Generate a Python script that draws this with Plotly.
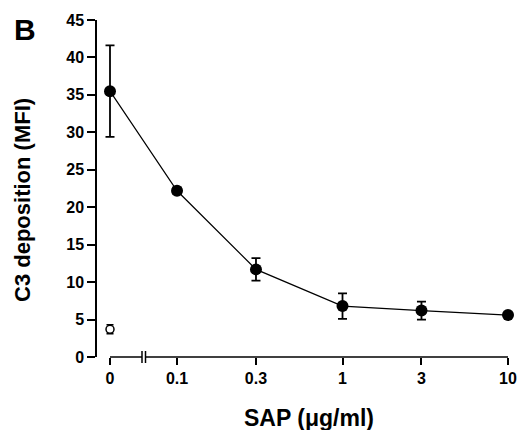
import math
import plotly.graph_objects as go

# ---- data ----
conc_labels = ["0", "0.1", "0.3", "1", "3", "10"]
conc_values = [0.1, 0.1, 0.3, 1, 3, 10]  # first entry placed left of the axis break
sap_mean = [35.5, 22.2, 11.7, 6.8, 6.2, 5.6]
sap_err = [6.1, 0.4, 1.5, 1.7, 1.2, 0.3]
ctrl_label = ["0"]
ctrl_mean = [3.7]
ctrl_err = [0.6]

ZERO_LOG = -1.405  # log-position used for the "0" category (left of break)
def xpos(label, v):
    return 10 ** ZERO_LOG if label == "0" else v

xs = [xpos(l, v) for l, v in zip(conc_labels, conc_values)]
xc = [10 ** ZERO_LOG for _ in ctrl_label]

FONT = "Liberation Sans, Arial, Helvetica, sans-serif"

fig = go.Figure()
fig.add_trace(go.Scatter(
    x=xs, y=sap_mean, mode="lines+markers",
    line=dict(color="black", width=1.2),
    marker=dict(color="black", size=12),
    error_y=dict(type="data", array=sap_err, color="black", thickness=1.8, width=4.5),
    cliponaxis=False, showlegend=False,
))
fig.add_trace(go.Scatter(
    x=xc, y=ctrl_mean, mode="markers",
    marker=dict(color="white", size=8, symbol="circle", line=dict(color="black", width=1.5)),
    error_y=dict(type="data", array=ctrl_err, color="black", thickness=1.5, width=3.5),
    cliponaxis=False, showlegend=False,
))

W, H = 518, 430
L, R, T, B = 96, 4, 20, 73
pw = W - L - R
ph = H - T - B
def px_to_paper_x(px):
    return (px - L) / pw
def px_to_paper_y(py):
    return (H - B - py) / ph

# pixel layout of the x axis
X0_PX, X10_PX = 110, 508
DOM_L_PX, DOM_R_PX = 101, 514
k = (X10_PX - X0_PX) / (1 - ZERO_LOG)
xrange = [ZERO_LOG - (X0_PX - DOM_L_PX) / k, 1 + (DOM_R_PX - X10_PX) / k]

fig.update_layout(
    width=W, height=H,
    margin=dict(l=L, r=R, t=T, b=B, autoexpand=False),
    plot_bgcolor="white", paper_bgcolor="white",
    font=dict(family=FONT, size=16, color="black", weight="bold"),
    xaxis=dict(
        type="log", domain=[px_to_paper_x(DOM_L_PX), 1], range=xrange,
        tickvals=xs, ticktext=conc_labels,
        ticks="outside", ticklen=7, tickwidth=1.5, tickcolor="black",
        showline=False, showgrid=False, zeroline=False, automargin=False,
        tickfont=dict(size=16, weight="bold"),
    ),
    yaxis=dict(
        anchor="free", position=0, range=[0, 45], dtick=5,
        ticks="outside", ticklen=8, tickwidth=1.5, tickcolor="black",
        showline=True, linecolor="black", linewidth=1.5,
        showgrid=False, zeroline=False, automargin=False,
        tickfont=dict(size=16, weight="bold"),
    ),
)

# axis line with break
b1, b2 = px_to_paper_x(142), px_to_paper_x(145.5)
seg = [(px_to_paper_x(X0_PX), b1), (b2, px_to_paper_x(X10_PX))]
for a, b in seg:
    fig.add_shape(type="line", xref="paper", yref="paper", x0=a, x1=b, y0=0, y1=0,
                  line=dict(color="black", width=1.5))
for bx in (b1, b2):
    fig.add_shape(type="line", xref="paper", yref="paper", x0=bx, x1=bx,
                  y0=px_to_paper_y(363), y1=px_to_paper_y(351),
                  line=dict(color="black", width=1.5))

fig.add_annotation(text="B", xref="paper", yref="paper",
                   x=px_to_paper_x(12), y=px_to_paper_y(29), xanchor="left", yanchor="middle",
                   showarrow=False, font=dict(size=30, weight="bold"))
fig.add_annotation(text="C3 deposition (MFI)", xref="paper", yref="paper",
                   x=px_to_paper_x(22), y=px_to_paper_y(200), textangle=-90,
                   xanchor="center", yanchor="middle",
                   showarrow=False, font=dict(size=22, weight="bold"))
fig.add_annotation(text="SAP (μg/ml)", xref="paper", yref="paper",
                   x=px_to_paper_x(309), y=px_to_paper_y(418),
                   xanchor="center", yanchor="middle",
                   showarrow=False, font=dict(size=23, weight="bold"))

fig.write_html(
    "out.html",
    config={"displayModeBar": False},
    post_script="document.body.style.margin='0';document.body.style.padding='0';document.body.style.overflow='hidden';",
)
